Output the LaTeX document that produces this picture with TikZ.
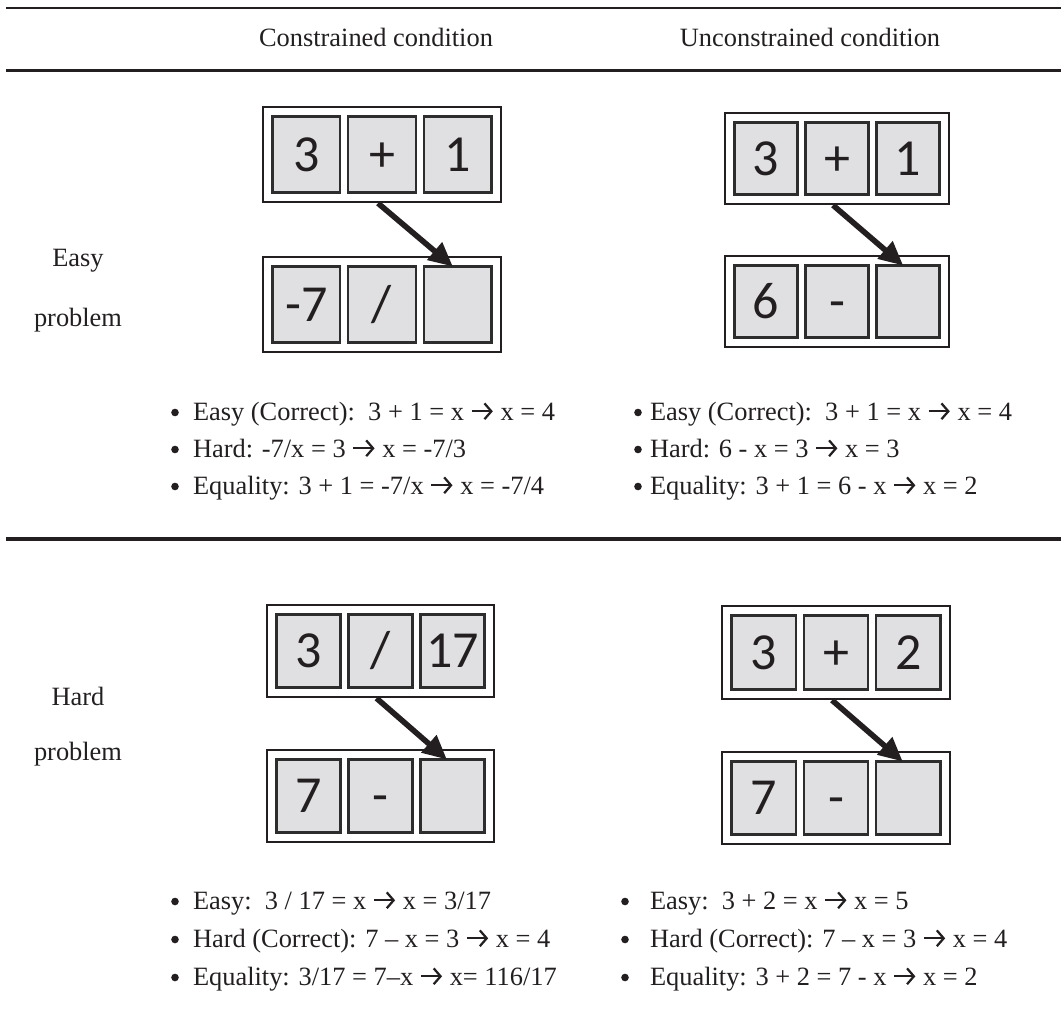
\documentclass[tikz,border=0pt]{standalone}
\usepackage{fontspec}
\setmainfont{Liberation Serif}
\newfontfamily\cellfont{Carlito}
\usetikzlibrary{arrows.meta}
\definecolor{ink}{RGB}{35,31,32}
\definecolor{cellgray}{RGB}{224,224,226}
\definecolor{cellline}{RGB}{45,45,45}
\newcommand{\rarr}{\tikz[x=1em,y=1em,baseline=0pt]\draw[line width=0.085em,-{Straight Barb[length=0.26em,width=0.6em]}] (0,0.33)--(0.8,0.33);}
\tikzset{
  txt/.style={inner sep=0pt, outer sep=0pt, font=\fontsize{13.2}{15}\selectfont, text=ink},
  bulletdot/.style={circle, fill=ink, inner sep=0pt, outer sep=0pt, minimum size=3.8pt},
  outerbox/.style={draw=ink, line width=1pt, fill=white, inner sep=0pt, outer sep=0pt},
  cellbox/.style={draw=cellline, line width=1.1pt, fill=cellgray, inner sep=0pt, outer sep=0pt, font=\cellfont\fontsize{26}{26}\selectfont, text=ink},
  bigarrow/.style={draw=ink, line width=2.8pt, -{Triangle[length=12pt,width=11pt]}},
  rulethin/.style={draw=ink, line width=0.8pt},
  rulethick/.style={draw=ink, line width=1.6pt},
}
\newcommand{\eqbox}[8]{%
  \pgfmathsetmacro\bw{#4-#2}\pgfmathsetmacro\bh{#5-#3}%
  \pgfmathsetmacro\cw{(\bw-2*9.5-2*8)/3}\pgfmathsetmacro\ch{\bh-19}%
  \node[outerbox, anchor=north west, minimum width=\bw*0.5pt, minimum height=\bh*0.5pt] (#1) at (#2,#3) {};
  \node[cellbox, anchor=north west, minimum width=\cw*0.5pt, minimum height=\ch*0.5pt] (#1a) at ({#2+9.5},{#3+9.5}) {\vphantom{3}\smash{#6}};
  \node[cellbox, anchor=north west, minimum width=\cw*0.5pt, minimum height=\ch*0.5pt] (#1b) at ({#2+9.5+\cw+8},{#3+9.5}) {\vphantom{3}\smash{#7}};
  \node[cellbox, anchor=north west, minimum width=\cw*0.5pt, minimum height=\ch*0.5pt] (#1c) at ({#2+9.5+2*\cw+16},{#3+9.5}) {\vphantom{3}\smash{#8}};
}
\newcommand{\bitem}[5]{%
  \node[bulletdot] (#1b) at (#2,{#4-7.5}) {};
  \node[txt, anchor=base west] (#1t) at (#3,#4) {#5};
}
\begin{document}
\begin{tikzpicture}[x=0.5pt,y=-0.5pt]
\useasboundingbox (0,0) rectangle (1061,1018);
% rules
\coordinate (r1l) at (6,8);   \coordinate (r1r) at (1061,8);
\coordinate (r2l) at (6,70.7); \coordinate (r2r) at (1061,70.7);
\coordinate (r3l) at (6,539); \coordinate (r3r) at (1061,539);
\draw[rulethin] (r1l) -- (r1r);
\draw[rulethick] (r2l) -- (r2r);
\draw[rulethick] (r3l) -- (r3r);
% headers
\node[txt, anchor=base] (h1) at (376,46) {Constrained condition};
\node[txt, anchor=base] (h2) at (810,46) {Unconstrained condition};
% row labels
\node[txt, anchor=base] (l1) at (78,266) {Easy};
\node[txt, anchor=base] (l2) at (78,326) {problem};
\node[txt, anchor=base] (l3) at (78,705) {Hard};
\node[txt, anchor=base] (l4) at (78,760) {problem};
% boxes
\eqbox{A1}{263}{107}{501}{202}{3}{+}{1}
\eqbox{A2}{263}{257}{501}{352}{-7}{/}{}
\eqbox{B1}{725}{113}{949}{204}{3}{+}{1}
\eqbox{B2}{725}{256}{949}{347}{6}{-}{}
\eqbox{C1}{267}{605}{494}{697}{3}{/}{17}
\eqbox{C2}{267}{750}{494}{842}{7}{-}{}
\eqbox{D1}{722}{606}{950}{699}{3}{+}{2}
\eqbox{D2}{722}{752}{950}{844}{7}{-}{}
% arrows
\draw[bigarrow] ([xshift=-2pt,yshift=-0.6pt]A1.south) -- ([xshift=-2.4pt]A2c.north);
\draw[bigarrow] ([xshift=-2pt,yshift=-0.6pt]B1.south) -- ([xshift=-2.4pt]B2c.north);
\draw[bigarrow] ([xshift=-2pt,yshift=-0.6pt]C1.south) -- ([xshift=-2.8pt]C2c.north);
\draw[bigarrow] ([xshift=-2pt,yshift=-0.6pt]D1.south) -- ([xshift=-2.8pt]D2c.north);
% bullets
\bitem{Ai}{175}{193}{420}{Easy (Correct):\ \ 3 + 1 = x \rarr\ x = 4}
\bitem{Aii}{175}{193}{457}{Hard: -7/x = 3 \rarr\ x = -7/3}
\bitem{Aiii}{175}{193}{494}{Equality: 3 + 1 = -7/x \rarr\ x = -7/4}
\bitem{Bi}{638}{650}{420}{Easy (Correct):\ \ 3 + 1 = x \rarr\ x = 4}
\bitem{Bii}{638}{650}{457}{Hard: 6 - x = 3 \rarr\ x = 3}
\bitem{Biii}{638}{650}{494}{Equality: 3 + 1 = 6 - x \rarr\ x = 2}
\bitem{Ci}{175}{193}{909}{Easy:\ \ 3 / 17 = x \rarr\ x = 3/17}
\bitem{Cii}{175}{193}{947}{Hard (Correct): 7 – x = 3 \rarr\ x = 4}
\bitem{Ciii}{175}{193}{985}{Equality: 3/17 = 7–x \rarr\ x= 116/17}
\bitem{Di}{625}{650}{909}{Easy:\ \ 3 + 2 = x \rarr\ x = 5}
\bitem{Dii}{625}{650}{947}{Hard (Correct): 7 – x = 3 \rarr\ x = 4}
\bitem{Diii}{625}{650}{985}{Equality: 3 + 2 = 7 - x \rarr\ x = 2}
\end{tikzpicture}
\end{document}
